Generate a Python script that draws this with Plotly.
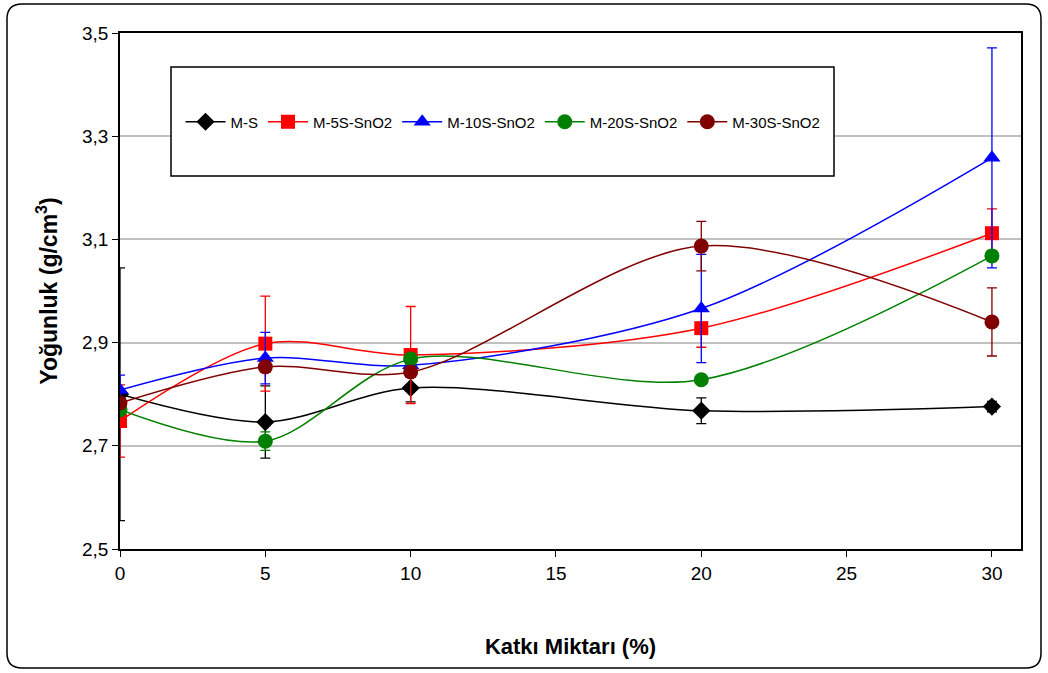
import plotly.graph_objects as go

# Katkı miktarı (%) and measured density (g/cm3) for each mix
katki = [0, 5, 10, 20, 30]

ms = [2.800, 2.746, 2.812, 2.768, 2.776]
ms_err = [0.245, 0.070, 0.027, 0.025, 0.010]

m5 = [2.748, 2.898, 2.876, 2.928, 3.112]
m5_err = [0.070, 0.092, 0.094, 0.037, 0.047]

m10 = [2.808, 2.870, 2.856, 2.966, 3.258]
m10_err = [0.029, 0.050, 0.010, 0.105, 0.213]

m20 = [2.770, 2.709, 2.868, 2.828, 3.068]
m20_err = [0.010, 0.018, 0.010, 0.005, 0.010]

m30 = [2.783, 2.853, 2.843, 3.087, 2.940]
m30_err = [0.010, 0.010, 0.010, 0.048, 0.066]

series = [
    ("M-S", ms, ms_err, "#000000", "diamond", 14),
    ("M-5S-SnO2", m5, m5_err, "#ff0000", "square", 14),
    ("M-10S-SnO2", m10, m10_err, "#0000ff", "triangle-up", 15),
    ("M-20S-SnO2", m20, m20_err, "#008000", "circle", 15),
    ("M-30S-SnO2", m30, m30_err, "#800000", "circle", 15),
]

BASE_FONT = "Liberation Sans, Arial, sans-serif"

fig = go.Figure()
for name, vals, errs, color, symbol, size in series:
    fig.add_trace(go.Scatter(
        x=katki, y=vals, name=name, mode="lines+markers",
        line=dict(color=color, width=1.5, shape="spline", smoothing=0.9),
        marker=dict(symbol=symbol, size=size, color=color),
        error_y=dict(type="data", array=errs, visible=True,
                     color=color, thickness=1.3, width=5),
    ))

# pixel -> paper helpers for the plot area (120..1021 x, 33..549 y)
L, R, T, B = 120, 1021, 33, 549
def px(x):
    return (x - L) / (R - L)
def py(y):
    return (B - y) / (B - T)

# rounded outer frame
x0, x1, y0, y1 = px(7), px(1041), py(4), py(668)
rx, ry = 15 / (R - L), 15 / (B - T)
frame = (f"M {x0+rx},{y0} L {x1-rx},{y0} Q {x1},{y0} {x1},{y0-ry} "
         f"L {x1},{y1+ry} Q {x1},{y1} {x1-rx},{y1} "
         f"L {x0+rx},{y1} Q {x0},{y1} {x0},{y1+ry} "
         f"L {x0},{y0-ry} Q {x0},{y0} {x0+rx},{y0} Z")

fig.update_layout(
    width=1048, height=673,
    margin=dict(l=L, r=1048 - R, t=T, b=673 - B),
    paper_bgcolor="white", plot_bgcolor="white",
    separators=", ",
    font=dict(family=BASE_FONT, size=18, color="black"),
    showlegend=True,
    legend=dict(orientation="h", x=px(503), xanchor="center",
                y=py(122), yanchor="middle",
                bgcolor="rgba(0,0,0,0)", borderwidth=0,
                font=dict(family=BASE_FONT, size=15), itemwidth=40),
    shapes=[
        dict(type="path", path=frame, xref="paper", yref="paper",
             line=dict(color="black", width=1.5), layer="above"),
        dict(type="rect", xref="paper", yref="paper",
             x0=px(171), x1=px(834), y0=py(176), y1=py(67),
             line=dict(color="black", width=1.5), fillcolor="white",
             layer="above"),
    ],
)

fig.update_xaxes(
    range=[0, 31], tickmode="array", tickvals=[0, 5, 10, 15, 20, 25, 30],
    ticks="outside", ticklen=6, tickcolor="black", tickwidth=1,
    showline=True, linecolor="black", linewidth=1.5, mirror=True,
    showgrid=False, zeroline=False,
    tickfont=dict(size=19),
    title=dict(text="<b>Katkı Miktarı (%)</b>", font=dict(size=22), standoff=56),
)
fig.update_yaxes(
    range=[2.5, 3.5], dtick=0.2, tick0=2.5, tickformat=".1f",
    ticks="outside", ticklen=6, tickcolor="black", tickwidth=1,
    showline=True, linecolor="black", linewidth=1.5, mirror=True,
    showgrid=True, gridcolor="#c0c0c0", gridwidth=1.5, zeroline=False,
    tickfont=dict(size=19),
    title=dict(text="<b>Yoğunluk (g/cm<sup>3</sup>)</b>", font=dict(size=23), standoff=18),
)

fig.write_html("out.html")
